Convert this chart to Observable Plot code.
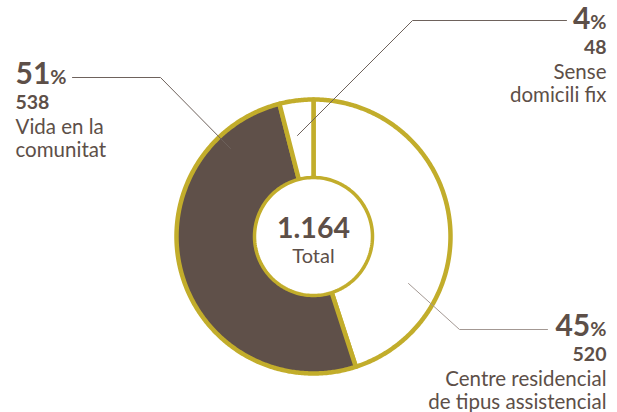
<!DOCTYPE html>
<html><head><meta charset="utf-8">
<script src="https://cdn.jsdelivr.net/npm/d3@7"></script>
<script src="https://cdn.jsdelivr.net/npm/@observablehq/plot@0.6"></script>
<style>body{margin:0;background:#fff}</style>
</head><body><div id="chart"></div>
<script>
// ---- data ----
const categoryLines = [["Centre residencial", "de tipus assistencial"], ["Vida en la", "comunitat"], ["Sense", "domicili fix"]];
const values = [520, 538, 48];
const percents = [45, 51, 4];
const totalLabel = "1.164";
const totalText = "Total";

// ---- layout / style ----
const W = 617, H = 412;
const cx = 313, cy = 236;           // donut centre in the picture
const R = 137, rInner = 59;
const brown = "#5d4f48", olive = "#c2ad2b";
const leadColors = ["#a39893", "#6e625c", "#6e625c"];
const fills = ["#ffffff", "#5f5049", "#ffffff"];

const pie = d3.pie().sort(null).value(d => d)(percents);
const slicePts = [];
pie.forEach((p, i) => {
  slicePts.push({i, x: 0, y: 0});
  const n = Math.max(2, Math.ceil((p.endAngle - p.startAngle) / 0.01));
  for (let k = 0; k <= n; k++) {
    const a = p.startAngle + (p.endAngle - p.startAngle) * k / n;
    slicePts.push({i, x: R * Math.sin(a), y: R * Math.cos(a)});
  }
  slicePts.push({i, x: 0, y: 0});
});
const hole = d3.range(0, 361, 2).map(d => ({x: rInner * Math.sin(d * Math.PI / 180), y: rInner * Math.cos(d * Math.PI / 180)}));

// label anchors (picture px -> centred coords)
const P = (px, py) => ({x: px - cx, y: cy - py});
const labelAnchors = [
  {pos: P(606, 335), anchor: "end", leader: [P(547, 329), P(459, 329), P(408, 283)]},
  {pos: P(15, 83), anchor: "start", leader: [P(72, 77), P(160, 77), P(230, 148)]},
  {pos: P(606, 28), anchor: "end", leader: [P(566, 20), P(412, 20), P(297, 135)]}
];
const lineOffsets = [0, 25, 50, 73];
const texts = [];
const leaders = [];
labelAnchors.forEach((L, i) => {
  const lines = [percents[i] + "%", String(values[i]), ...categoryLines[i]];
  lines.forEach((t, j) => texts.push({x: L.pos.x, y: L.pos.y - lineOffsets[j], t, anchor: L.anchor, kind: j === 0 ? "pct" : j === 1 ? "val" : "name"}));
  L.leader.forEach(p => leaders.push({i, ...p}));
});

const textMarks = [];
for (const anchor of ["start", "end"]) {
  const sel = k => texts.filter(d => d.kind === k && d.anchor === anchor);
  textMarks.push(
    Plot.text(sel("pct"), {x: "x", y: "y", text: "t", textAnchor: anchor, lineAnchor: "bottom", fontSize: 30, fontWeight: "bold", fill: brown}),
    Plot.text(sel("val"), {x: "x", y: "y", text: "t", textAnchor: anchor, lineAnchor: "bottom", fontSize: 19.5, fontWeight: "bold", fill: brown}),
    Plot.text(sel("name"), {x: "x", y: "y", text: "t", textAnchor: anchor, lineAnchor: "bottom", fontSize: 20.5, fill: brown})
  );
}

const chart = Plot.plot({
  width: W, height: H,
  margin: 0,
  x: {domain: [-cx, W - cx], axis: null},
  y: {domain: [cy - H, cy], axis: null},
  style: {fontFamily: "Lato, 'Open Sans', sans-serif", background: "#fff"},
  marks: [
    Plot.line(slicePts, {x: "x", y: "y", z: "i", fill: d => fills[d.i], stroke: olive, strokeWidth: 4.5, strokeLinejoin: "round", curve: "linear"}),
    Plot.line(hole, {x: "x", y: "y", fill: "#fff", stroke: olive, strokeWidth: 3.5}),
    Plot.line(leaders, {x: "x", y: "y", z: "i", stroke: d => leadColors[d.i], strokeWidth: 1}),
    ...textMarks,
    Plot.text([{x: 0, y: 0, t: totalLabel}], {x: "x", y: "y", text: "t", dy: 1, lineAnchor: "bottom", fontSize: 28.5, fontWeight: "bold", fill: brown}),
    Plot.text([{x: 0, y: 0, t: totalText}], {x: "x", y: "y", text: "t", dy: 26, lineAnchor: "bottom", fontSize: 20, fill: brown})
  ]
});
// shrink the "%" signs
d3.select(chart).selectAll("text").each(function () {
  const s = this.textContent;
  if (/^\d+%$/.test(s)) {
    this.textContent = s.slice(0, -1);
    d3.select(this).append("tspan").attr("font-size", "0.66em").text("%");
  }
});
document.getElementById("chart").appendChild(chart);
</script>
</body></html>
